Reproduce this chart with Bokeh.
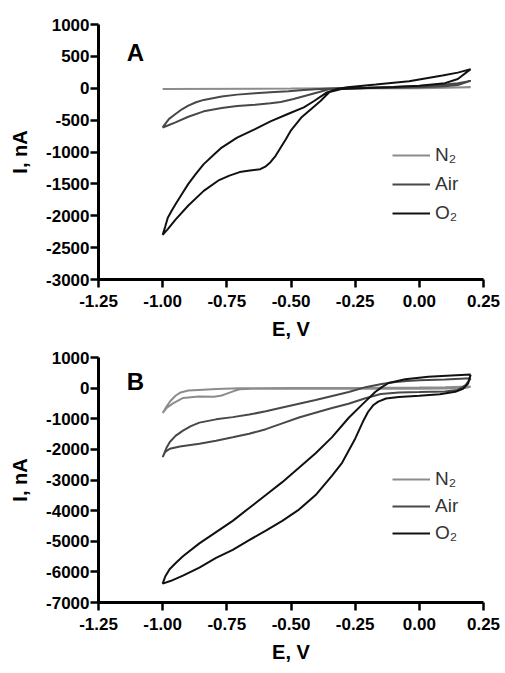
from bokeh.plotting import figure
from bokeh.layouts import column
from bokeh.models import FixedTicker, Label
from bokeh.embed import file_html
from bokeh.resources import INLINE

# ---------------- data ----------------
X_TICKS = [-1.25, -1.0, -0.75, -0.5, -0.25, 0.0, 0.25]
X_TICK_LABELS = ["-1.25", "-1.00", "-0.75", "-0.50", "-0.25", "0.00", "0.25"]
A_Y_TICKS = [1000, 500, 0, -500, -1000, -1500, -2000, -2500, -3000]
A_Y_TICK_LABELS = ["1000", "500", "0", "-500", "-1000", "-1500", "-2000", "-2500", "-3000"]
B_Y_TICKS = [1000, 0, -1000, -2000, -3000, -4000, -5000, -6000, -7000]
B_Y_TICK_LABELS = ["1000", "0", "-1000", "-2000", "-3000", "-4000", "-5000", "-6000", "-7000"]
SERIES = ["N\u2082", "Air", "O\u2082"]

# Panel A
A_N2_E = [0.20, 0.00, -0.50, -1.00, -0.50, 0.00, 0.20]
A_N2_I = [15, 0, -5, -10, -5, 5, 15]

A_AIR_E = [0.20, 0.15, 0.10, 0.00, -0.10, -0.20, -0.30, -0.35, -0.39, -0.44, -0.49, -0.54, -0.58, -0.64,
           -0.71, -0.77, -0.84, -0.90, -0.95, -0.98, -1.00,
           -0.99, -0.975, -0.95, -0.925, -0.90, -0.87, -0.84, -0.77, -0.71, -0.64, -0.58, -0.51, -0.45,
           -0.39, -0.30, -0.20, -0.10, 0.00, 0.10, 0.15, 0.20]
A_AIR_I = [115, 50, 30, 15, 8, 2, -5, -12, -60, -115, -168, -215, -236, -257,
           -278, -310, -362, -447, -536, -585, -615,
           -560, -480, -404, -330, -272, -220, -183, -131, -100, -79, -63, -47, -26,
           -10, 5, 12, 20, 35, 60, 80, 115]

A_O2_E = [0.20, 0.15, 0.10, 0.00, -0.10, -0.20, -0.30, -0.35, -0.385, -0.42, -0.46, -0.50, -0.52,
          -0.54, -0.56, -0.58, -0.60, -0.62, -0.66, -0.70, -0.74, -0.78, -0.84, -0.90, -0.95, -0.98,
          -1.00,
          -0.99, -0.98, -0.965, -0.95, -0.925, -0.90, -0.87, -0.84, -0.80, -0.77, -0.71, -0.64, -0.58,
          -0.51, -0.45, -0.41, -0.36, -0.32, -0.28, -0.17, -0.04, 0.09, 0.15, 0.20]
A_O2_I = [300, 145, 80, 40, 20, 5, -10, -60, -200, -320, -460, -660, -800,
          -930, -1060, -1160, -1230, -1270, -1290, -1315, -1370, -1440, -1610, -1840, -2060, -2210,
          -2300,
          -2170, -2030, -1920, -1820, -1660, -1500, -1340, -1190, -1040, -930, -775, -640, -520,
          -400, -300, -200, -65, -10, 15, 58, 111, 200, 245, 300]

# Panel B
B_N2_E = [0.20, 0.18, 0.10, 0.00, -0.30, -0.60, -0.65, -0.70, -0.72, -0.75, -0.77, -0.80, -0.86, -0.92,
          -0.96, -0.985, -1.00,
          -0.985, -0.97, -0.95, -0.93, -0.90, -0.86, -0.79, -0.70, -0.50, -0.20, 0.00, 0.10, 0.20]
B_N2_I = [50, 0, -15, -20, -20, -15, -20, -35, -90, -180, -240, -280, -270, -320,
          -500, -650, -810,
          -600, -420, -250, -140, -80, -60, -32, -5, 5, 10, 20, 30, 50]

B_AIR_E = [0.20, 0.18, 0.15, 0.10, 0.00, -0.08, -0.15, -0.21, -0.276, -0.340, -0.405, -0.469, -0.534,
           -0.598, -0.663, -0.727, -0.792, -0.857, -0.933, -0.972, -0.99, -1.00,
           -0.985, -0.972, -0.95, -0.921, -0.89, -0.857, -0.792, -0.727, -0.663, -0.598, -0.534, -0.404,
           -0.275, -0.21, -0.147, -0.10, -0.05, 0.00, 0.10, 0.20]
B_AIR_I = [320, 100, -60, -110, -130, -140, -190, -330, -510, -650, -805, -960, -1150,
           -1340, -1490, -1605, -1716, -1815, -1905, -1980, -2080, -2250,
           -1950, -1760, -1560, -1389, -1240, -1126, -1020, -947, -863, -757, -631, -389,
           -126, 32, 136, 190, 230, 255, 285, 320]

B_O2_E = [0.20, 0.19, 0.17, 0.14, 0.08, 0.00, -0.08, -0.13, -0.16, -0.18, -0.20, -0.22, -0.25,
          -0.301, -0.340, -0.404, -0.469, -0.534, -0.598, -0.663, -0.727, -0.792, -0.857, -0.921,
          -0.97, -1.00,
          -0.99, -0.973, -0.95, -0.921, -0.857, -0.792, -0.727, -0.663, -0.598, -0.534, -0.469,
          -0.404, -0.340, -0.275, -0.224, -0.172, -0.146, -0.12, -0.055, 0.035, 0.125, 0.20]
B_O2_I = [440, 150, -20, -120, -200, -250, -290, -340, -440, -560, -780, -1100, -1650,
          -2440, -2860, -3493, -3966, -4334, -4650, -4965, -5280, -5544, -5860, -6122,
          -6300, -6385,
          -6150, -5912, -5720, -5490, -5070, -4700, -4334, -3913, -3490, -3070, -2600,
          -2125, -1600, -968, -547, -126, 32, 168, 293, 374, 416, 448]

COLORS = ["#8c8c8c", "#484848", "#111111"]
FONT = "Liberation Sans"


def panel(height, y_range, y_ticks, y_labels, curves, letter, letter_y, border_top, border_bottom,
          legend_loc, legend_spacing):
    p = figure(width=500, height=height, x_range=(-1.25, 0.25), y_range=y_range,
               output_backend="svg", toolbar_location=None,
               min_border_left=98, min_border_right=17,
               min_border_top=border_top, min_border_bottom=border_bottom)
    p.outline_line_color = None
    p.xgrid.visible = False
    p.ygrid.visible = False
    p.background_fill_color = "white"

    for (ex, iy), name, col in zip(curves, SERIES, COLORS):
        p.line(ex, iy, line_color=col, line_width=2, legend_label=name)

    p.xaxis.ticker = FixedTicker(ticks=X_TICKS)
    p.xaxis.major_label_overrides = dict(zip(X_TICKS, X_TICK_LABELS))
    p.yaxis.ticker = FixedTicker(ticks=y_ticks)
    p.yaxis.major_label_overrides = dict(zip(y_ticks, y_labels))
    p.xaxis.axis_label = "E, V"
    p.yaxis.axis_label = "I, nA"
    for ax in (p.xaxis[0], p.yaxis[0]):
        ax.axis_line_width = 3
        ax.axis_line_color = "black"
        ax.major_tick_line_width = 2.5
        ax.major_tick_out = 8
        ax.major_tick_in = 0
        ax.minor_tick_line_color = None
        ax.major_label_text_font = FONT
        ax.major_label_text_font_style = "bold"
        ax.major_label_text_font_size = "17px"
        ax.major_label_text_color = "black"
        ax.axis_label_text_font = FONT
        ax.axis_label_text_font_style = "bold"
        ax.axis_label_text_font_size = "20px"
        ax.axis_label_text_color = "black"
    p.xaxis.major_label_standoff = 7
    p.xaxis.axis_label_standoff = 8
    p.yaxis.major_label_standoff = 1
    p.yaxis.axis_label_standoff = 12

    p.add_layout(Label(x=-1.14, y=letter_y, text=letter, text_font=FONT, text_font_style="bold",
                       text_font_size="24px", text_baseline="middle", text_align="left",
                       text_color="black"))

    lg = p.legend[0]
    lg.location = legend_loc
    lg.label_text_font = FONT
    lg.label_text_font_size = "19px"
    lg.label_text_color = "#333333"
    lg.glyph_width = 38
    lg.glyph_height = 20
    lg.label_height = 20
    lg.label_standoff = 5
    lg.spacing = legend_spacing
    lg.padding = 0
    lg.margin = 0
    lg.border_line_color = None
    lg.background_fill_alpha = 0
    return p


pa = panel(343, (-3000, 1000), A_Y_TICKS, A_Y_TICK_LABELS,
           [(A_N2_E, A_N2_I), (A_AIR_E, A_AIR_I), (A_O2_E, A_O2_I)],
           "A", 560, 24, 64, (294, 55), 7)
pb = panel(322, (-7000, 1000), B_Y_TICKS, B_Y_TICK_LABELS,
           [(B_N2_E, B_N2_I), (B_AIR_E, B_AIR_I), (B_O2_E, B_O2_I)],
           "B", 228, 14, 52, (294, 58), 5)

layout = column(pa, pb, spacing=0)
open("out.html", "w").write(file_html(layout, INLINE))
